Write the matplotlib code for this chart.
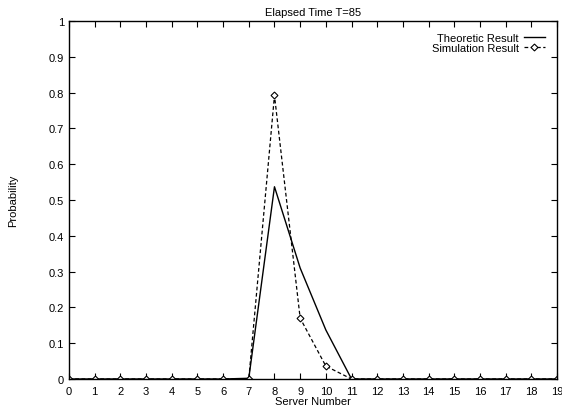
import matplotlib
matplotlib.use("Agg")
import matplotlib.pyplot as plt
import numpy as np

plt.rcParams['font.family'] = ['Liberation Sans', 'DejaVu Sans']
plt.rcParams['font.size'] = 8

servers = np.arange(0, 20)
theoretic = [0, 0, 0, 0, 0, 0, 0, 0.002, 0.537, 0.31, 0.137, 0,
             0, 0, 0, 0, 0, 0, 0, 0]
simulation = [0, 0, 0, 0, 0, 0, 0, 0, 0.792, 0.17, 0.036, 0,
              0, 0, 0, 0, 0, 0, 0, 0]

fig = plt.figure(figsize=(5.62, 4.10), dpi=100)
ax = fig.add_axes([69/562, 30/410, 488/562, 358/410])

ax.plot(servers, theoretic, color='black', lw=1.0, label='Theoretic Result')
ax.plot(servers, simulation, color='black', lw=0.9, ls=(0, (3, 2)),
        marker='D', markersize=3.5, markerfacecolor='white',
        markeredgewidth=0.8, label='Simulation Result')

ax.set_xlim(0, 19)
ax.set_ylim(0, 1)
ax.set_xticks(servers)
ax.set_yticks(np.round(np.arange(0, 1.01, 0.1), 1))
ax.set_yticklabels(['0', '0.1', '0.2', '0.3', '0.4', '0.5', '0.6', '0.7',
                    '0.8', '0.9', '1'])
ax.tick_params(direction='in', top=True, right=True, length=4, width=0.8,
               labelsize=8)
ax.tick_params(axis='x', pad=5)
for s in ax.spines.values():
    s.set_linewidth(1.0)

ax.set_title('Elapsed Time T=85', fontsize=8, pad=4)
ax.set_xlabel('Server Number', fontsize=8, labelpad=0)
ax.set_ylabel('Probability', fontsize=8, labelpad=22)

ax.legend(loc='upper right', bbox_to_anchor=(0.975, 0.967), frameon=False,
          markerfirst=False, fontsize=8, handlelength=1.9, borderpad=0,
          borderaxespad=0, handletextpad=0.45, labelspacing=0.0)

fig.savefig('out.png', dpi=100)
